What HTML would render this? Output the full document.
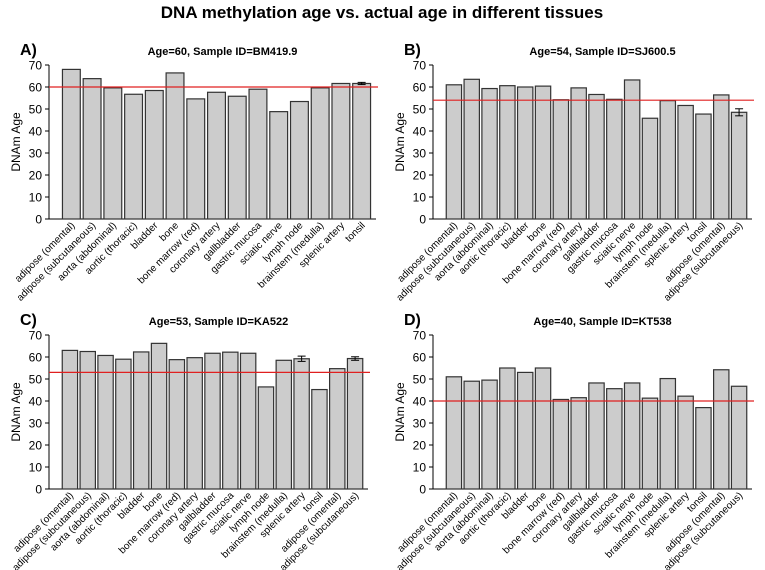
<!DOCTYPE html>
<html><head><meta charset="utf-8"><style>
body{margin:0;background:#fff;}
svg{display:block;font-family:"Liberation Sans",Arial,sans-serif;}
</style></head><body>
<svg id="chart" width="765" height="570">
<text x="382" y="18" text-anchor="middle" font-size="17" font-weight="bold">DNA methylation age vs. actual age in different tissues</text>
</svg>
<script>
const labels15 = ["adipose (omental)","adipose (subcutaneous)","aorta (abdominal)","aortic (thoracic)","bladder","bone","bone marrow (red)","coronary artery","gallbladder","gastric mucosa","sciatic nerve","lymph node","brainstem (medulla)","splenic artery","tonsil"];
const labels17 = ["adipose (omental)","adipose (subcutaneous)","aorta (abdominal)","aortic (thoracic)","bladder","bone","bone marrow (red)","coronary artery","gallbladder","gastric mucosa","sciatic nerve","lymph node","brainstem (medulla)","splenic artery","tonsil","adipose (omental)","adipose (subcutaneous)"];
const valuesA = [68,63.8,59.6,56.7,58.4,66.4,54.6,57.6,55.8,59,48.8,53.4,59.6,61.6,61.6];
const errA = [0,0,0,0,0,0,0,0,0,0,0,0,0,0,0.5];
const valuesB = [61,63.5,59.3,60.6,60,60.4,54.2,59.6,56.6,54.4,63.2,45.8,53.8,51.6,47.7,56.4,48.5];
const errB = [0,0,0,0,0,0,0,0,0,0,0,0,0,0,0,0,1.6];
const valuesC = [63,62.5,60.7,59,62.3,66.2,58.8,59.7,61.7,62.2,61.7,46.4,58.5,59.2,45.2,54.7,59.3];
const errC = [0,0,0,0,0,0,0,0,0,0,0,0,0,1.2,0,0,0.8];
const valuesD = [51,49,49.5,55,53,55,40.7,41.5,48.2,45.6,48.2,41.3,50.2,42.2,37,54.2,46.7];
const errD = [0,0,0,0,0,0,0,0,0,0,0,0,0,0,0,0,0];
const ages = [60,54,53,40];
const titles = ["Age=60, Sample ID=BM419.9","Age=54, Sample ID=SJ600.5","Age=53, Sample ID=KA522","Age=40, Sample ID=KT538"];
const letters = ["A)","B)","C)","D)"];
const yTicks = [0,10,20,30,40,50,60,70];

const NS="http://www.w3.org/2000/svg";
const svg=document.getElementById('chart');
function mk(tag,attrs,parent){const e=document.createElementNS(NS,tag);for(const k in attrs)e.setAttribute(k,attrs[k]);(parent||svg).appendChild(e);return e;}

function panel(idx,ox,oy,labels,values,errs){
  const axisX=ox+49, y0=oy+219, y70=oy+65, x1=ox+61, x2=ox+(labels.length===15?372:364);
  const ys=v=>y0-(v/70)*(y0-y70);
  const slot=(x2-x1)/labels.length, bw=slot*0.86;
  const g=mk('g',{});
  
  
  const lt=mk('text',{x:ox+20,y:oy+55,'font-size':16,'font-weight':'bold'},g);lt.textContent=letters[idx];
  
  const tt=mk('text',{x:(axisX+x2)/2+12,y:oy+55,'text-anchor':'middle','font-size':11,'font-weight':'bold'},g);tt.textContent=titles[idx];
  
  const yl=mk('text',{x:0,y:0,'text-anchor':'middle','font-size':12,transform:`translate(${ox+20},${(y0+y70)/2}) rotate(-90)`},g);yl.textContent="DNAm Age";
  
  mk('line',{x1:axisX,x2:axisX,y1:ys(0),y2:ys(70),stroke:'#000','stroke-width':1},g);
  yTicks.forEach(t=>{
    mk('line',{x1:axisX-4,x2:axisX,y1:ys(t),y2:ys(t),stroke:'#000'},g);
    const tx=mk('text',{x:axisX-7,y:ys(t)+4.5,'text-anchor':'end','font-size':12},g);tx.textContent=t;
    
  });
  mk('line',{x1:axisX,x2:x2+4,y1:y0,y2:y0,stroke:'#000'},g);
  values.forEach((v,i)=>{
    const bx=x1+i*slot+(slot-bw)/2;
    const r=mk('rect',{x:bx,y:ys(v),width:bw,height:y0-ys(v),fill:'#cccccc',stroke:'#333','stroke-width':1.2},g);
    
    
    const cx=bx+bw/2;
    if(errs[i]>0){
      const e=errs[i];
      mk('line',{x1:cx,x2:cx,y1:ys(v+e),y2:ys(v-e),stroke:'#000'},g);
      mk('line',{x1:cx-4,x2:cx+4,y1:ys(v+e),y2:ys(v+e),stroke:'#000'},g);
      mk('line',{x1:cx-4,x2:cx+4,y1:ys(v-e),y2:ys(v-e),stroke:'#000'},g);
    }
    const lb=mk('text',{x:0,y:0,'text-anchor':'end','font-size':10,transform:`translate(${cx+4},${y0+7}) rotate(-45)`},g);
    lb.textContent=labels[i];
    
  });
  const rl=mk('line',{x1:axisX,x2:x2+6,y1:ys(ages[idx]),y2:ys(ages[idx]),stroke:'#e02020','stroke-width':1.2},g);
  
}
panel(0,0,0,labels15,valuesA,errA);
panel(1,384,0,labels17,valuesB,errB);
panel(2,0,270,labels17,valuesC,errC);
panel(3,384,270,labels17,valuesD,errD);
</script>
</body></html>
